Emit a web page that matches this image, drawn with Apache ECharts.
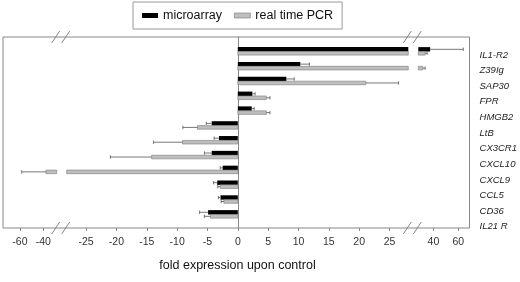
<!DOCTYPE html>
<html>
<head>
<meta charset="utf-8">
<script src="https://cdn.jsdelivr.net/npm/echarts@6/dist/echarts.min.js"></script>
<style>
  html, body { margin: 0; padding: 0; background: #fff; }
  #main { width: 520px; height: 282px; }
</style>
</head>
<body>
<div id="main"></div>
<script>
// genes, top to bottom
const genes = ["IL1-R2", "Z39Ig", "SAP30", "FPR", "HMGB2", "LtB", "CX3CR1", "CXCL10", "CXCL9", "CCL5", "CD36", "IL21 R"];
const microarray = [37.4, 10.3, 8.0, 2.4, 2.3, -4.3, -3.1, -4.3, -2.5, -3.4, -2.85, -4.9];
const microarrayErr = [26.6, 1.5, 1.3, 0.45, 0.4, 0.9, 0.8, 1.2, 0.4, 0.6, 0.35, 1.4];
const pcr = [33.4, 31.5, 21.1, 4.7, 4.7, -6.65, -9.1, -14.2, -37.7, -2.9, -2.3, -4.5];
const pcrErr = [1.6, 1.9, 5.4, 0.6, 0.6, 2.4, 4.8, 6.8, 20.8, 0.4, 0.45, 1.0];
// broken x axis: three pieces
const ticksLeft = [-60, -40];
const ticksMid = [-25, -20, -15, -10, -5, 0, 5, 10, 15, 20, 25];
const ticksRight = [40, 60];

const FONT = "Liberation Sans, Arial, sans-serif";
const TOP = 37, HEIGHT = 191;
const pieces = [
  { left: 3, width: 53.7, min: -74.5, max: -28.5, ticks: ticksLeft },
  { left: 66.7, width: 341.6, min: -28.2, max: 28.1, ticks: ticksMid },
  { left: 418.3, width: 53.7, min: 27.9, max: 71, ticks: ticksRight }
];

const chart = echarts.init(document.getElementById("main"));

function barRenderer(above, thick, fill, stroke) {
  return function (params, api) {
    const i = api.value(0), v = api.value(1), e = api.value(2);
    const cs = params.coordSys;
    const p0 = api.coord([0, i]);
    const p1 = api.coord([v, i]);
    const p2 = api.coord([v < 0 ? v - e : v + e, i]);
    const y = above ? p0[1] - thick : p0[1];
    const yc = y + thick / 2;
    const children = [];
    const r = echarts.graphic.clipRectByRect(
      { x: Math.min(p0[0], p1[0]), y: y, width: Math.abs(p1[0] - p0[0]), height: thick }, cs);
    if (r && r.width > 0) {
      children.push({ type: "rect", shape: r, style: { fill: fill, stroke: stroke, lineWidth: stroke ? 0.6 : 0 } });
    }
    const xl = cs.x, xr = cs.x + cs.width;
    let a = Math.max(xl, Math.min(xr, p1[0]));
    let b = Math.max(xl, Math.min(xr, p2[0]));
    if (Math.abs(b - a) > 0.1) {
      children.push({ type: "line", shape: { x1: a, y1: yc, x2: b, y2: yc }, style: { stroke: "#555", lineWidth: 0.8 } });
    }
    if (p2[0] >= xl && p2[0] <= xr) {
      children.push({ type: "line", shape: { x1: p2[0], y1: yc - 1.7, x2: p2[0], y2: yc + 1.7 }, style: { stroke: "#555", lineWidth: 0.8 } });
    }
    return { type: "group", children: children };
  };
}

const grids = [], xAxes = [], yAxes = [], series = [];
pieces.forEach(function (p, g) {
  grids.push({ left: p.left, top: TOP, width: p.width, height: HEIGHT });
  xAxes.push({
    gridIndex: g, type: "value", min: p.min, max: p.max,
    axisLine: { show: false, onZero: false },
    splitLine: { show: false },
    axisTick: { show: true, length: 3, customValues: p.ticks, lineStyle: { color: "#888" } },
    axisLabel: { customValues: p.ticks, fontSize: 10.5, color: "#333", fontFamily: FONT, margin: 9 },
    name: g === 1 ? "fold expression upon control" : "",
    nameLocation: "middle", nameGap: 31,
    nameTextStyle: { fontSize: 12.5, color: "#111", fontFamily: FONT }
  });
  yAxes.push({
    gridIndex: g, type: "value", inverse: true, min: -0.98, max: 11.91,
    show: g === 1,
    axisLine: { show: true, onZero: true, lineStyle: { color: "#888", width: 1 } },
    axisTick: { show: false }, axisLabel: { show: false }, splitLine: { show: false }
  });
  series.push({
    name: "microarray", type: "custom", xAxisIndex: g, yAxisIndex: g, silent: true,
    itemStyle: { color: "#000" },
    renderItem: barRenderer(true, 4.4, "#000", null),
    data: genes.map(function (_, i) { return [i, microarray[i], microarrayErr[i]]; })
  });
  series.push({
    name: "real time PCR", type: "custom", xAxisIndex: g, yAxisIndex: g, silent: true,
    itemStyle: { color: "#bebebe" },
    renderItem: barRenderer(false, 3.6, "#bebebe", "#7a7a7a"),
    data: genes.map(function (_, i) { return [i, pcr[i], pcrErr[i]]; })
  });
});

// frame grid holding the gene labels on the right
grids.push({ left: 3, top: TOP, width: 469, height: HEIGHT, show: true, borderColor: "#888", borderWidth: 1, backgroundColor: "transparent", z: 0 });
xAxes.push({ gridIndex: 3, type: "value", show: false, min: 0, max: 1 });
yAxes.push({
  gridIndex: 3, type: "value", inverse: true, position: "right", min: -1.154, max: 11.083,
  axisLine: { show: false }, axisTick: { show: false }, splitLine: { show: false },
  axisLabel: {
    customValues: genes.map(function (_, i) { return i; }),
    formatter: function (v) { return genes[v]; },
    fontStyle: "italic", fontSize: 9.5, color: "#222", fontFamily: FONT, margin: 10, align: "left"
  }
});

// break marks on top and bottom border
const breaks = [
  (pieces[0].left + pieces[0].width + pieces[1].left) / 2,
  (pieces[1].left + pieces[1].width + pieces[2].left) / 2
];
const marks = [];
breaks.forEach(function (cx) {
  [TOP, TOP + HEIGHT].forEach(function (y) {
    [-10, 0].forEach(function (dx) {
      marks.push({
        type: "line", z: 100,
        shape: { x1: cx + dx, y1: y + 6, x2: cx + dx + 8, y2: y - 6 },
        style: { stroke: "#777", lineWidth: 0.9 }
      });
    });
  });
});

chart.setOption({
  animation: false,
  backgroundColor: "#fff",
  textStyle: { fontFamily: FONT },
  legend: {
    left: 133, top: 2,
    padding: [7, 9, 7, 9],
    borderColor: "#999", borderWidth: 1,
    itemWidth: 16, itemHeight: 5, itemGap: 12,
    textStyle: { fontSize: 12.5, color: "#111", fontFamily: FONT },
    data: [
      { name: "microarray", icon: "rect", itemStyle: { color: "#000" } },
      { name: "real time PCR", icon: "rect", itemStyle: { color: "#bebebe", borderColor: "#7a7a7a", borderWidth: 0.6 } }
    ]
  },
  grid: grids,
  xAxis: xAxes,
  yAxis: yAxes,
  series: series,
  graphic: marks
});
</script>
</body>
</html>
